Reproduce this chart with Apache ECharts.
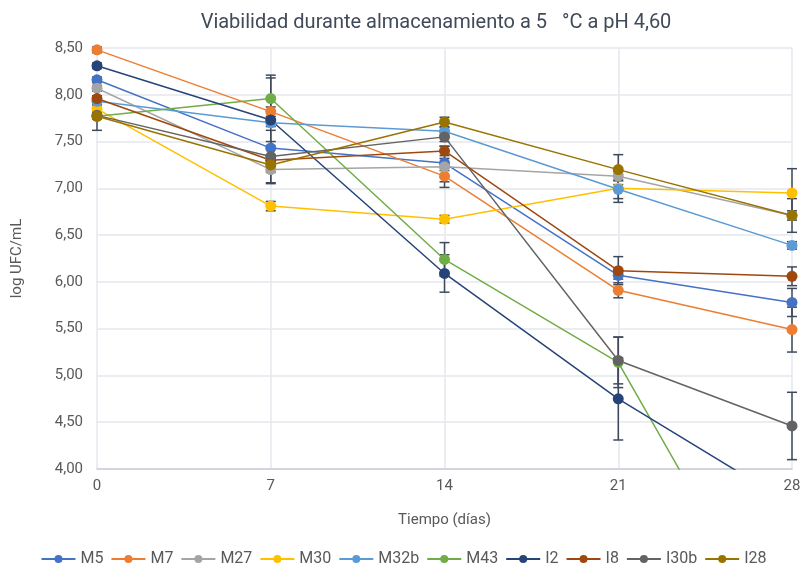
<!DOCTYPE html>
<html>
<head>
<meta charset="utf-8">
<script src="https://cdn.jsdelivr.net/npm/echarts@6/dist/echarts.min.js"></script>
<style>
  html, body { margin: 0; padding: 0; background: #fff; }
  #chart { width: 807px; height: 575px; }
</style>
</head>
<body>
<div id="chart"></div>
<script>
const days = [0, 7, 14, 21, 28]

const seriesNames = ['M5', 'M7', 'M27', 'M30', 'M32b', 'M43', 'I2', 'I8', 'I30b', 'I28']
const seriesColors = ['#4472C4', '#ED7D31', '#A5A5A5', '#FFC000', '#5B9BD5', '#70AD47', '#264478', '#9E480E', '#636363', '#997300']

// log UFC/mL por día
const M5 = [8.16, 7.43, 7.27, 6.07, 5.78]
const M7 = [8.48, 7.82, 7.13, 5.91, 5.49]
const M27 = [8.07, 7.20, 7.23, 7.13, 6.71]
const M30 = [7.85, 6.81, 6.67, 7.00, 6.95]
const M32b = [7.93, 7.70, 7.61, 6.99, 6.39]
const M43 = [7.77, 7.96, 6.24, 5.14, 1.88]
const I2 = [8.31, 7.73, 6.09, 4.75, 3.62]
const I8 = [7.96, 7.30, 7.40, 6.12, 6.06]
const I30b = [7.78, 7.34, 7.55, 5.16, 4.46]
const I28 = [7.77, 7.25, 7.71, 7.20, 6.71]

// desviación (±)
const errM5 = [0.03, 0.07, 0.05, 0.04, 0.15]
const errM7 = [0.03, 0.05, 0.06, 0.08, 0.24]
const errM27 = [0.03, 0.03, 0.22, 0.05, 0.18]
const errM30 = [0.03, 0.05, 0.04, 0.15, 0.26]
const errM32b = [0.03, 0.04, 0.04, 0.1, 0.04]
const errM43 = [0.03, 0.25, 0.18, 0.27, 0]
const errI2 = [0.03, 0.45, 0.2, 0.44, 0]
const errI8 = [0.03, 0.05, 0.05, 0.15, 0.1]
const errI30b = [0.03, 0.28, 0.05, 0.25, 0.36]
const errI28 = [0.15, 0.2, 0.05, 0.16, 0.05]

const values = [M5, M7, M27, M30, M32b, M43, I2, I8, I30b, I28]
const errors = [errM5, errM7, errM27, errM30, errM32b, errM43, errI2, errI8, errI30b, errI28]

const yTicks = ['4,00', '4,50', '5,00', '5,50', '6,00', '6,50', '7,00', '7,50', '8,00', '8,50']

const chart = echarts.init(document.getElementById('chart'))

const fontFamily = "'Liberation Sans Narrow', Roboto, sans-serif"
const textColor = '#595959'
const gridColor = '#e4e7ee'

// barras de error
const errData = []
values.forEach((vals, s) => {
  vals.forEach((v, i) => {
    const e = errors[s][i]
    if (e > 0) errData.push([days[i], v - e, v + e])
  })
})

const lineSeries = seriesNames.map((name, s) => ({
  name,
  type: 'line',
  data: days.map((d, i) => [d, values[s][i]]),
  symbol: 'circle',
  symbolSize: 11,
  clip: true,
  z: 3,
  itemStyle: { color: seriesColors[s] },
  lineStyle: { color: seriesColors[s], width: 1.5 },
}))

const option = {
  animation: false,
  backgroundColor: '#fff',
  title: {
    text: 'Viabilidad durante almacenamiento a 5   °C a pH 4,60',
    left: 431,
    top: 8,
    textAlign: 'center',
    textStyle: { fontFamily, fontSize: 20, fontWeight: 'normal', color: '#404a58' },
  },
  legend: {
    data: seriesNames,
    bottom: 3,
    left: 'center',
    itemWidth: 34,
    itemHeight: 10,
    itemGap: 7,
    textStyle: { fontFamily, fontSize: 16, color: textColor },
  },
  grid: { left: 97, right: 15, top: 48, bottom: 106 },
  xAxis: {
    type: 'value',
    min: 0,
    max: 28,
    interval: 7,
    name: 'Tiempo (días)',
    nameLocation: 'middle',
    nameGap: 44,
    nameTextStyle: { fontFamily, fontSize: 15, color: textColor },
    axisLine: { show: true, lineStyle: { color: '#c9cdd6', width: 1.5 } },
    axisTick: { show: false },
    axisLabel: { fontFamily, fontSize: 15, color: textColor, margin: 10 },
    splitLine: { show: true, lineStyle: { color: gridColor, width: 1.5 } },
  },
  yAxis: {
    type: 'value',
    min: 4,
    max: 8.5,
    interval: 0.5,
    name: 'log UFC/mL',
    nameLocation: 'middle',
    nameRotate: 90,
    nameGap: 72,
    nameTextStyle: { fontFamily, fontSize: 15, color: textColor },
    axisLine: { show: false },
    axisTick: { show: false },
    axisLabel: {
      fontFamily, fontSize: 15, color: textColor, margin: 14,
      formatter: (v) => yTicks[Math.round((v - 4) / 0.5)],
    },
    splitLine: { show: true, lineStyle: { color: gridColor, width: 1.5 } },
  },
  series: [
    {
      name: 'error',
      type: 'custom',
      z: 2,
      silent: true,
      data: errData,
      renderItem: (params, api) => {
        const x = api.value(0)
        const lo = api.coord([x, api.value(1)])
        const hi = api.coord([x, api.value(2)])
        const w = 5
        const style = { stroke: '#3e4a5b', lineWidth: 1.5 }
        return {
          type: 'group',
          children: [
            { type: 'line', shape: { x1: lo[0], y1: lo[1], x2: hi[0], y2: hi[1] }, style },
            { type: 'line', shape: { x1: lo[0] - w, y1: lo[1], x2: lo[0] + w, y2: lo[1] }, style },
            { type: 'line', shape: { x1: hi[0] - w, y1: hi[1], x2: hi[0] + w, y2: hi[1] }, style },
          ],
        }
      },
    },
    ...lineSeries,
  ],
}

chart.setOption(option)
</script>
</body>
</html>
